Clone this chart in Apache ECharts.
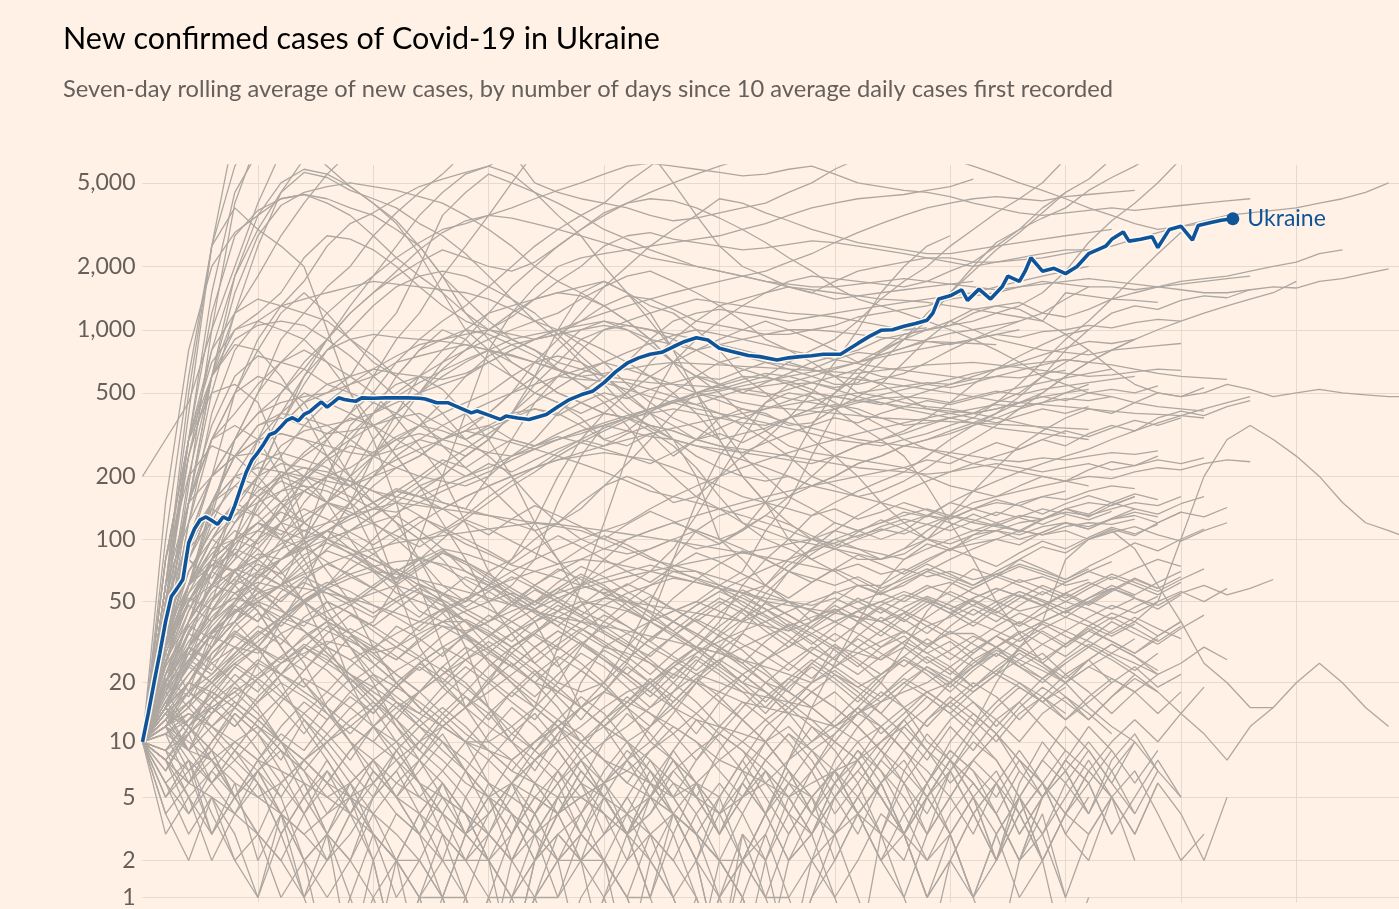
<!DOCTYPE html>
<html><head><meta charset="utf-8">
<script src="https://cdn.jsdelivr.net/npm/echarts@6/dist/echarts.min.js"></script>
<style>html,body{margin:0;padding:0;background:#fff1e5;}#chart{width:1399px;height:909px;}</style>
</head><body><div id="chart"></div>
<script>
const titleText = 'New confirmed cases of Covid-19 in Ukraine';
const subtitleText = 'Seven-day rolling average of new cases, by number of days since 10 average daily cases first recorded';
const yTickValues = [1, 2, 5, 10, 20, 50, 100, 200, 500, 1000, 2000, 5000];
const xGridStepDays = 20;
const sampleStepDays = 4; // grey lines: one value every 4 days, starting at day 0

const ukraineDays = [0,1,2,3,4,5,6,7,8,9,10,11,12,13,14,15,16,17,18,19,20,21,22,23,24,25,26,27,28,29,30,31,32,33,34,35,36,37,38,40,42,44,46,48,49,51,53,55,57,58,60,62,63,65,67,70,72,74,76,78,80,82,84,86,88,90,92,94,96,98,100,102,105,107,110,112,114,116,118,121,124,126,128,130,132,134,136,137,138,140,142,143,145,147,149,150,152,153,154,156,158,160,162,164,166,167,168,170,171,173,175,176,178,180,182,183,185,187,189];
const ukraineCases = [10,14,20,28,40,53,58,64,96,112,124,128,123,118,128,124,145,175,210,240,260,285,316,324,345,370,381,368,395,407,430,453,428,450,474,466,460,457,474,472,474,474,474,472,468,449,449,425,402,410,392,374,388,380,374,395,430,465,490,509,560,630,693,735,765,781,830,880,916,893,816,790,754,745,718,735,745,752,764,764,861,930,994,1000,1040,1070,1110,1200,1400,1450,1550,1380,1560,1400,1600,1800,1700,1900,2200,1900,1960,1850,2000,2300,2434,2503,2693,2915,2641,2693,2772,2460,3002,3111,2672,3134,3227,3320,3373];

const majorOutbreaks = [
  [10,60,400,2500,9000,20000,28000],
  [10,45,300,1500,4500,7000,8000,7500,6000,4800,4000,3200,2300,1500,1000,800,600,500,450,380,300,280,320,250,300,320,290,330,380,420,500,650,780,900,1100,1500,2000,2600,3000,3400,3800,4600,5300,6000,7000],
  [10,60,250,800,1800,3000,4500,5600,5300,4600,4200,3800,3200,2800,2300,1800,1400,1100,900,700,550,420,340,300,250,220,200,190,200,180,200,230,250,280,300,330,360,400,480,600,800,1000,1200,1300,1250,1380,1450,1420,1550,1600,1580,1700,1750,1850,1950],
  [10,40,150,600,1800,3500,5000,5800,5500,4800,4000,3300,2500,1800,1400,1100,900,800,650,550,480,400,350,330,300,380,420,400,350,360,420,480,550,700,900,1100,1250,1300,1350,1200,1150,1250,1400,1500,1600,1700,1750,1800,1900,2000,2100,2300,2400],
  [10,50,300,1200,2800,3700,4200,4400,4200,3800,3500,3000,2500,1800,1200,900,700,600,500,450,400,380,420,450,500,520,560,600,700,800,900,1100,1400,1700,2000,2500,3000,3600,4200,5000,6500,8000],
  [10,30,150,600,1500,2800,3900,4500,4800,5000,4800,4600,4300,4000,3500,3000,2500,2000,1700,1500,1300,1100,900,700,600,550,500,560,620,700,750,800,900,950,1000,1050,1100,1200,1300,1500,1900,2600,3300,4000,5000,6500],
  [10,150,800,2000,2900,3500,4200,4400,4000,3500,2800,2200,1800,1500,1200,1000,950,900,950,1100,1300,1450,1400,1250,1100,1050,1000,950,950,1000,1050,1150,1200,1250,1300,1400,1450,1500,1600,1700,1650,1600,1600,1550,1600,1650,1700,1750,1800],
  [10,40,200,600,1000,1200,1500,2200,2800,2700,2400,2000,1600,1300,1100,1000,1150,1400,1700,2000,2500,2800,2900,2700,2600,2500,2400,2450,2550,2650,2600,2500,2400,2300,2200,2200,2100,2100,2150,2200,2300,2400,2500,2700,2900,3100,3300,3500,3600,3700,3800,4000,4200,4500,5000],
  [10,50,250,600,1200,1800,2800,4000,5500,7000,9000,12000],
  [10,40,150,500,1200,2500,4500,6500,9000],
  [10,25,60,130,300,500,900,1200,1600,2000,2800,3600,4500,5500,7000,9000],
  [10,40,90,200,500,900,1300,1700,2500,3200,3600,4200,4800,5200,5600,6000,7000,5000,4500,4200,4000,3800,3500,3300,3400,3600,3800,4000,4500,5000,5800,6500,7000,7500,7000,6500,6000,5500,5000,4600,4200,3800,3500,3200,3000,3100,3200],
  [10,30,120,400,800,1100,1300,1400,1500,1600,1700,1650,1600,1550,1500,1400,1250,1100,1000,850,700,550,450,380,340,300,320,340,380,420,440,420,380,350,360,380,400,420,450,500,600,700,800,900,1000,1100,1200,1300,1400,1500,1700],
  [10,25,60,140,300,500,700,900,1200,1500,1800,2200,2600,3000,3200,3500,3800,4200,4600,5000,5500,6000,6200,6000,5800,5600,5400,5500,5800,6000,5500,5000,4800,4600,4500,4300,4000,3800,3600,3500,3600,3700,3800,3700,3800,3900,4000,4100,4200],
  [10,40,90,120,140,200,350,600,900,1200,1500,1800,2100,2400,2200,2000,1900,2100,2500,3000,3600,4000,4200,4100,3800,3400,3000,2600,2200,1900,1600,1400,1300,1200,1100,1000,900,800,700,600,550,500,480,450,430,420,410],
  [10,60,300,800,1200,1400,1300,1200,1100,900,750,600,500,400,300,250,200,150,120,100,90,85,90,100,90,95,110,150,220,350,500,600,550,480,420,400,380,450,550,700,900,1100,1400,1800,2300,2900],
  [10,80,300,600,900,1050,1100,1050,900,750,600,480,380,280,220,180,140,110,80,60,55,60,70,90,130,200,300,450,550,560,530,560,700,900,1200,1500,1900,2400,2900,3600,4500],
  [10,30,100,200,300,400,450,480,500,600,900,1200,2000,3500,4500,5500,5000,4500,4000,3500,3000,2700,2400,2200,2000,1900,1800,1700,1650,1600,1600,1650,1700,1750,1700,1650,1600,1550,1600,1650,1700,1750,1700,1650,1600,1550,1500,1500,1550],
  [10,60,120,200,300,400,500,650,900,1300,1800,2500,3500,4500,5500,6000,5500,4500,3500,2800,2000,1500,1100,800,650,550,500,480,520,560,600,650,600,580,550,580,620,650,680,700,720,700,680,650,620,600,590,580],
  [10,15,25,35,45,50,60,100,200,350,450,550,600,520,400,300,200,120,80,50,35,30,40,45,50,60,70,110,150,250,400,600,800,950,1000,1050,1200,1300,1250,1100,950,800,650,550,500,480,500,550,520,480,500,520,500,490,480,480],
  [10,80,300,500,550,450,250,120,100,90,80,70,60,50,30,15,10,8,10,20,30,35,40,45,50,45,40,45,50,45,40,45,50,45,40,35,35,30,35,40,45,40,35,40,50,100,200,300,350,300,250,200,150,120,110,100],
  [10,60,500,2500,3800,3000,2500,2000,1000,500,300,150,60,30,15,20,30,35,30,25,20,15,10,8,6,5,8,12,15,20,30,25,20,15,10,8,12,20,30,40,80,100,110,90,60,40,25,20,15,15,20,25,20,15,12],
  [200,300,450,1000,2000,4000,7000],
  [10,100,600,2500,6000,9000],
  [10,35,180,1000,4000,8000],
  [10,40,80,60,70,90,120,200,300,400,600,900,1200,1800,2500,3500,5000,7000,9000,12000,11000,9000,7000,5000,3500,2500,2000,1800,1600,1500,1400,1450,1500,1550,1600,1650,1700],
  [10,30,120,300,500,600,550,450,300,200,120,60,30,20,15,12,10,15,30,60,120,250,450,700,900,1100,1300,1500,1700,1800,1750,1700,1650,1600,1700,1900,2100,2500,3000,3800,4500,5200,6500],
  [10,25,60,90,100,110,100,120,150,180,250,350,500,700,900,1200,1600,2000,2500,3000,3500,4000,4500,5000,5500,6000,6500,7000,7500,8000],
  [10,30,50,80,100,150,200,250,300,400,500,700,900,1100,1300,1600,2000,2500,3000,3500,4000,5000,6000,7500,9000],
  [10,15,20,30,40,50,60,50,40,35,40,60,100,200,400,800,1200,1600,2000,2200,2300,2400,2500,2600,2700,2800,3000,3200,3500,3800,4000,4200,4300,4400,4600,4800,5200],
  [10,25,60,100,150,200,280,330,350,370,400,450,500,550,600,700,800,900,1000,1100,1200,1300,1400,1500,1600,1700,1800,1900,2100,2300,2600,2900,3200,3500,3800,4000,4200,4300,4200,4100,4300,4400,4500,4600],
  [10,30,80,150,200,220,210,200,190,180,200,220,250,300,350,400,500,700,900,1200,1600,2000,2500,3000,3500,4200,4000,3600,3300,3000,2800,2600,2500,2400,2300,2300,2400,2500,2600,2700,2800,2900,3000],
  [10,15,30,70,150,300,500,700,900,1200,1500,1900,2400,2900,3300,3500,3400,3200,3000,2800,2600,2400,2200,2100,2000,1900,1800,1700,1600,1550,1500,1450,1400,1380,1350,1300,1250,1200,1150,1100,1500,1450,1400,1380,1350]
];

const midOutbreaks = [
  [10,30,60,100,150,250,350,450,550,600,650,620,600,580,620,700,800,900,1000,1050,1100,1000,850,700,600,500,400,330,280,260,250,240,230,220,200,180,170,190,210,230,250,270,300,330,360,390,420,450,480],
  [10,40,150,350,600,750,700,650,550,500,450,400,350,300,280,260,250,270,300,330,350,330,310,300,280,260,240,220,200,180,170,160,170,190,220,260,300,350,420,500,600,700,800,900],
  [10,80,300,700,1000,1100,1000,900,700,500,350,250,180,120,80,50,35,25,20,18,20,30,50,80,110,130,140,150,160,180,200,230,250,280,300,320,350,380,420,450,500,550],
  [10,60,250,600,850,800,600,400,250,150,90,60,45,40,40,35,30,35,45,60,80,100,110,120,110,100,110,130,160,200,250,280,300,320,350,380,400,450,500,600,700,800],
  [10,40,150,300,350,300,200,100,40,20,12,10,8,12,15,10,8,10,12,15,18,25,40,80,150,250,350,450,500,480,420,350,300,250,180,120,80,50,35,25,20,15,12,10],
  [10,50,150,300,400,550,700,800,700,600,500,380,280,200,120,70,50,40,25,15,12,10,12,15,20,25,35,50,70,90,100,90,80,85,100,130,170,220,280,330,380,420,400,450,500,480,530],
  [10,20,40,80,150,250,400,600,800,900,950,920,900,880,850,800,750,700,650,550,450,350,250,200,160,140,120,110,100,95,90,85,80,90,110,130,150,160,170,180,190,200,195,210,220,215,230,240,235],
  [10,15,25,50,100,200,350,550,800,1000,1300,1600,1800,1900,1800,1600,1400,1200,950,750,600,480,400,350,300,280,270,260,250,240,230,220,215,210,205,210,220,230,220,210,220,230,215,225,240,230,245],
  [10,15,25,40,60,100,150,200,250,300,350,400,500,650,800,1000,1200,1400,1500,1450,1300,1100,900,700,500,350,250,200,160,140,120,110,120,130,140,130,120,115,110,105,110,100,108,115,105,98,110,120],
  [10,15,30,50,70,80,90,100,120,150,200,250,300,280,250,300,400,600,1000,1500,1700,1500,1200,800,500,300,200,150,120,100,90,80,80,90,100,95,105,110,100,108,120,115,125,130,120,135],
  [10,30,80,150,250,350,400,380,350,300,250,220,200,190,180,200,250,300,400,500,600,700,900,1100,1200,1250,1200,1150,1100,1150,1200,1250,1300,1350,1400,1450,1500,1600,1700,1800,1900,2000],
  [10,30,60,120,200,300,400,500,450,400,350,250,180,150,140,200,300,450,600,800,1000,1100,1200,1300,1400,1350,1300,1250,1200,1180,1150,1100,1050,1000,1020],
  [10,20,40,80,120,180,250,350,450,550,650,750,850,900,950,1000,900,800,700,650,600,580,560,550,540,530,520,540,560,600,650,700,760,820,900,960,1000,1050,1100],
  [10,30,60,100,130,150,170,180,170,150,120,100,80,60,50,60,80,120,200,300,400,500,700,900,1100,1300,1400,1500,1600,1500,1700,1900,2000,2100,2200,2100,2000,2100,2200,2300,2400,2400],
  [10,20,40,70,100,120,110,100,110,130,150,170,160,150,140,130,120,110,120,140,180,230,300,400,500,550,600,590,570,520,450,400,350,300,270,250,230,220,210,200,190,180],
  [10,15,20,30,50,80,120,170,200,220,260,300,320,300,330,400,500,550,600,580,570,560,520,480,440,400,350,300,250,200,180,160,150,140,130,120,110,110,120,125,135,130,140,150,145,160],
  [10,15,20,30,40,60,80,100,150,250,400,600,800,900,1000,950,850,750,650,600,620,650,680,700,690,680,670,660,650,640,630,620,640,660,680,690,700,680,660,640,620,600,610,630,650,640],
  [10,30,80,150,250,300,320,300,250,200,150,120,100,80,60,50,60,80,150,250,350,380,330,280,220,160,120,100,90,80,70,60,60,70,80,90,100,110,105,115,120,112,125,135,128],
  [10,25,60,150,250,350,380,350,320,330,350,380,400,350,300,350,400,420,400,350,300,330,400,500,600,700,750,700,650,600,550,550,580,620,700,800,900,1000,1100,1200,1400,1600],
  [10,25,50,80,100,120,150,170,150,140,180,220,250,300,330,350,300,280,300,320,350,380,400,420,400,380,360,350,380,400,420,450,470,480,470,450,480,510,490,520,540,560,580,600],
  [10,60,150,200,250,300,320,300,280,260,250,270,300,350,400,450,500,600,800,1000,1100,1050,1000,900,800,700,650,600,550,500,480,460,450,430,420,410,400,420,450,480,500,520],
  [10,50,100,150,200,180,150,120,100,110,130,150,180,200,250,300,400,550,700,900,1000,1050,1000,950,900,850,800,750,700,650,600,580,560,540,520,500,480,460,450,440,430,420,410,400,395,390,380],
  [10,8,6,10,15,25,40,60,100,150,200,280,350,450,600,750,850,900,950,1000,1050,1000,900,850,800,850,900,950,1000,1000,980,950,920,900,880,870,860,850],
  [10,20,30,40,50,60,80,100,150,200,300,400,500,600,700,800,900,950,1000,900,800,700,600,550,500,480,450,430,420,410,400,390,380,375,370,365,360,355,350,345,340,335],
  [10,40,100,200,250,260,240,200,150,100,70,55,50,45,50,70,80,100,120,150,180,200,180,150,160,200,250,300,380,500,700,1000,1500,2000,2500,2800],
  [10,30,60,100,150,200,230,220,200,180,150,120,80,50,35,25,20,15,12,10,12,15,20,25,30,40,60,80,100,130,150,170,190,210,250,300,350,400,450,480,460,500,520,500,540],
  [10,80,200,280,250,200,150,100,70,50,30,20,15,12,10,10,12,15,20,30,40,50,60,70,70,60,55,60,80,100,120,110,100,110,130,150,140,130,150,160,155,170,180,175],
  [10,50,150,300,500,800,1200,1500,1200,900,700,600,800,1000,900,700,600,500,450,400,450,500,600,700,800,900,1000,1100,1000,900,800,700,800,900,1000,1100,1000,900,850,800,780,760,800,820,840,860],
  [10,20,40,60,100,200,350,450,500,550,600,700,750,800,850,800,700,600,500,450,400,380,350,300,280,270,260,250,240,230,250,280,300,330,380,450,550,650,750,850,950,1000],
  [10,15,20,30,40,50,60,80,100,150,250,400,600,800,1000,1200,1300,1400,1500,1600,1700,1500,1300,1200,1000,800,600,500,400,300,250,200,150,120,100,90,95,100,110,105,115,120,118,125],
  [10,15,25,35,50,70,100,150,200,300,400,500,600,700,800,900,1000,1100,1200,1400,1600,1800,1900,1700,1500,1300,1100,900,800,700,600,500,480,450,430,420,400,380,360,340,320],
  [10,30,50,60,80,150,200,180,150,200,250,300,350,400,450,500,600,700,750,700,600,500,400,300,200,100,80,60,50,40,50,60,55,50,58,62,55,50,45,48],
  [10,12,15,20,25,30,40,50,60,80,100,130,170,200,250,300,400,500,600,650,700,650,600,500,400,300,200,150,100,80,90,100,110,120,130,125,140,150,145,160,170],
  [10,22,45,80,120,160,210,190,240,280,260,310,350,330,300,340,380,420,390,450,500,470,520,560,600,580,640,700,680,650,720,780,760,820,880,850,900,950,920,980,1000,1050,1020,1080,1120,1100],
  [10,30,70,110,150,130,170,200,180,160,140,170,200,240,220,260,300,280,320,360,400,380,420,460,440,480,520,500,470,450,430,460,490,520,550,530,560,600,640,680,720,700],
  [10,18,35,60,90,140,200,260,320,380,350,300,260,230,200,220,250,280,310,290,270,250,230,260,300,340,380,420,460,500,480,460,440,470,510,550,600,650,700,760,820,880,860,900],
  [10,25,50,75,95,120,100,90,110,130,150,170,160,180,200,230,210,240,270,300,280,320,350,330,300,280,260,290,320,350,380,360,400,430,460,440,470,500,530,560,590,620,650],
  [10,40,80,130,180,230,260,240,220,180,150,120,100,110,130,160,190,220,260,300,340,380,420,460,500,540,580,620,600,560,520,480,450,420,400,380,360,340,330,320,310,300],
  [10,15,28,45,70,100,140,190,250,320,400,480,560,640,720,800,760,700,640,600,560,520,480,450,420,400,380,360,340,320,300,290,280,300,320,350,380,360,390,420,400,430],
  [10,20,36,55,70,85,80,95,110,125,140,135,150,170,190,210,240,270,300,330,360,390,420,450,480,510,540,570,600,630,660,700,740,780,820,860,900,950,1000],
  [10,12,20,32,48,65,90,120,150,180,210,240,270,300,330,310,290,270,250,230,210,190,170,160,150,140,130,120,110,100,95,90,85,80,90,100,110,120,130,125,140,150,145,160],
  [10,35,60,75,85,70,60,70,90,110,130,160,190,230,270,320,380,450,530,620,700,780,860,940,1000,950,900,850,800,760,720,690,660,640,620,600,580],
  [10,16,22,30,40,55,70,90,110,90,75,65,80,100,125,150,180,210,250,290,330,370,410,450,500,460,420,390,360,340,320,300,290,280,270,260,250,240,235,245,240,250,260,255,265],
  [10,28,55,90,130,170,200,220,210,190,170,160,150,140,160,180,200,220,240,260,280,300,320,340,360,380,400,420,440,460,480,500,520,540,560,550,580,600,590,620,640],
  [10,22,40,60,80,100,120,110,100,90,80,70,60,55,50,60,70,80,90,100,110,120,140,160,180,200,220,240,260,280,300,320,340,360,380,400,420,440,430,450,470,460,480]
];

const smallOutbreaks = [
  [10,15,25,35,40,30,20,12,8,5,3,2,1,1,0,0,1,2,3,2,1,0],
  [10,20,40,60,55,45,30,20,15,10,8,6,5,4,3,4,6,8,10,12,15,18,20,25,30,28,25,20,18,15,12,10,12,15,18,20,25,30,35,40,45,50,46,52,48,55,60,54,58,64],
  [10,12,18,25,30,28,35,40,45,50,55,60,55,50,40,30,25,20,18,15,12,10,8,6,5,4,5,6,8,10,12,14,16,18,20,24,19,23,28,24,20,26,31,27,22,25,30,26],
  [10,8,6,5,4,3,2,1,0,0,1,2,1,0,0,1,0,1,2,3,5,8,6,4,3,2,1,0,2,4,3,1,0],
  [10,25,50,80,100,90,70,50,30,20,15,10,6,4,3,2,1,2,3,4,6,8,12,18,25,35,45,60,75,90,110,130,150,170,190,210,230,250,270,300,280,320,350,330,380,410,390,430,460],
  [10,15,20,18,15,12,10,8,10,12,15,20,25,30,35,40,50,60,70,80,90,100,110,120,130,140,150,160,170,180,190,200,210,220,240,230,260,290,270,300,330,310,340,370,350,380],
  [10,12,10,8,6,5,4,3,4,5,6,8,10,12,15,20,25,20,15,10,8,6,5,4,3,2,1,0,0],
  [10,18,30,45,60,70,80,90,100,110,120,130,110,90,70,60,50,45,40,35,30,28,25,22,20,18,16,15,14,13,12,15,20,30,45,60,72,66,80,92,86,100,112,104,120,135,128,142],
  [10,14,12,16,20,25,22,18,15,12,10,14,18,22,26,30,35,40,45,50,48,45,40,35,30,25,20,18,15,12,10,8,12,9,6,10,14,11,7,5,8,12,9,6,9],
  [10,30,60,80,70,50,35,25,15,10,6,4,3,2,2,1,1,0,0,0,1,2,3,4,3,2,1,0,0,1,3,5,8,12,15,20,26,22,30,36,31,38,44,40,34,40],
  [10,20,35,50,65,80,95,110,120,130,140,150,145,140,135,130,125,120,115,110,100,90,80,75,70,65,60,55,50,45,40,35,30,34,28,32,26,30,24,28,22,26,20,24,19,22],
  [10,15,12,9,7,5,6,8,10,12,10,8,6,5,4,3,2,3,4,5,4,3,2,1,2,0,1,3,1,0],
  [10,40,90,150,180,160,120,80,50,35,25,20,15,12,10,8,6,5,4,5,6,8,10,14,20,30,40,55,70,85,100,110,120,135,128,150,170,160,180,200,190,215,235,225,250],
  [10,16,24,35,45,55,60,58,55,52,48,44,40,38,36,40,45,50,55,60,65,70,75,70,65,60,55,50,48,46,44,42,40,44,38,42,48,43,38,44,50,46,41,47,53],
  [10,22,30,25,20,15,10,6,3,2,1,0,0,0,1,0,0,2,4,6,5,4,3,2,1,0],
  [10,12,16,20,26,32,40,50,60,72,85,100,120,140,160,180,200,220,240,250,260,250,240,220,200,180,160,150,140,130,140,125,135,150,138,126,140,155,145,132,148,162,150,140],
  [10,8,12,15,18,14,10,8,6,9,12,15,12,10,8,6,5,4,6,8,10,12,15,18,22,26,30,34,38,42,46,40,48,54,50,44,52,58,53,48,55,62,56],
  [10,25,45,70,90,80,65,50,40,30,22,16,12,9,7,5,4,3,2,2,3,4,5,4,3,2,2,1,1,2,3,4,6,3,5,8,6,4,2,5,7,4],
  [10,11,13,15,18,22,27,33,40,48,58,70,80,90,85,78,70,60,52,45,40,35,30,26,22,20,18,17,16,15,18,14,17,21,18,15,19,23,20,16,19],
  [10,13,20,28,35,30,25,28,32,30,25,20,15,12,10,9,8,10,12,15,18,16,14,12,10,8,7,6,5,6,7,8,10,12,9,13,16,13,10,14,17,14,11],
  [10,35,70,110,140,130,100,70,45,30,20,12,8,5,3,2,1,1,0,1,2,1,0,0,0,1,2,4,8,15,25,40,60,80,95,88,105,118,110,125,140,132,150,165,155],
  [10,9,11,14,17,21,25,30,26,22,19,16,14,12,15,18,22,27,33,40,48,55,60,65,62,58,52,46,40,35,30,28,26,30,25,29,34,30,26,31,36,32,28,33],
  [10,20,30,42,55,62,58,50,42,35,28,22,18,14,11,9,7,6,5,5,6,7,9,11,14,18,22,26,30,35,40,45,40,47,53,48,43,50,56,51,46,52,58,53],
  [10,12,14,12,10,8,7,6,5,6,8,10,13,17,22,28,35,42,50,60,70,80,90,100,110,100,90,80,70,65,60,66,58,64,72,66,60,68,76,70,64,72],
  [10,18,26,34,30,24,18,13,9,6,4,3,2,1,1,0,0,1,1,2,2,1,1,0],
  [10,22,40,60,85,110,140,170,200,190,170,150,130,110,95,85,75,70,65,60,55,50,48,46,44,42,40,38,36,40,45,50,55,60,70,80,90,100,94,108,120,112,126,140,132,148,160],
  [10,12,15,11,8,6,4,3,2,3,5,7,10,14,18,24,30,36,42,48,52,50,45,40,35,30,26,22,18,15,12,15,11,14,18,15,12,16,20,17,13,16,20],
  [10,15,22,30,40,50,45,40,36,32,28,30,35,40,45,50,55,50,45,40,35,30,25,20,16,12,10,8,6,5,7,4,6,9,7,5,8,11,8,6,9],
  [10,28,50,70,60,45,30,20,14,10,7,5,4,3,2,2,3,5,7,10,13,16,20,24,28,32,36,40,45,50,55,60,54,62,70,64,58,66,74,68,62,70,78],
  [10,14,18,22,28,35,42,50,58,65,70,68,64,60,56,52,48,45,42,40,38,36,34,32,30,28,26,24,22,20,23,19,22,26,23,20,24,28,24,21,25],
  [10,11,9,8,10,12,9,7,5,4,3,2,2,1,0,0,0,1,3,2,0],
  [10,20,32,45,52,48,40,36,30,26,30,35,40,46,52,58,64,70,76,80,78,74,70,66,62,58,55,52,50,48,52,46,50,56,51,46,52,58,53,48,54],
  [10,16,26,38,50,66,80,96,110,100,85,70,56,44,34,26,20,16,13,10,8,7,6,5,6,8,10,13,16,20,24,28,32,36,31,35,40,36,32,37,42,38,34,39],
  [10,13,9,12,15,12,9,7,10,13,16,12,9,7,5,8,11,14,10,7,5,3,4,6,4,2,1],
  [10,24,38,52,64,56,46,36,28,22,18,15,18,22,28,34,40,46,52,58,62,66,70,74,78,82,86,90,95,100,110,102,115,125,118,110,122,135,127,118,130],
  [10,17,25,20,16,13,10,8,6,5,4,6,8,6,4,3,2,1,2,3,2,1,0,0,1],
  [10,12,16,21,27,34,42,51,60,68,74,78,80,76,70,62,54,46,38,32,26,22,18,15,13,12,11,10,12,9,11,14,12,9,13,16,13,10,14,17,14],
  [10,30,55,75,70,58,46,36,28,22,17,13,10,8,6,5,6,8,11,15,20,26,33,40,48,56,64,72,80,88,96,104,112,106,118,130,124,116,128,140,132,124,136],
  [10,9,13,17,13,9,6,8,11,15,19,23,27,23,19,15,12,9,7,5,4,3,5,7,9,11,9,7,5,7,4,6,9,7,5,8,6,4,7],
  [10,19,28,36,44,52,60,68,76,84,90,96,100,104,108,112,116,120,118,114,110,106,102,98,94,90,86,82,78,74,70,76,68,72,66,70,64,68,62,66,60,64]
];

const jaggedSmallOutbreaks = [
  [10,14,9,16,22,18,25,31,27,20,24,30,26,19,15,21,28,23,17,13,18,24,20,15,11,16,22,18,14,10,13,17,14,11,8,12,9,13,16,12,9,7,10,13,10,14,11,8,12,15],
  [10,20,15,28,36,30,42,38,50,44,36,30,38,46,40,34,28,35,42,37,31,26,33,40,35,30,25,32,39,34,29,24,30,36,31,26,32,38,44,40,36,42,48,44,50,56,50,58],
  [10,7,12,9,14,11,8,13,10,7,5,9,6,4,7,5,3,6,4,2,5,3,1,4,2,0,3,1,0,2,1,0,3,2,5,3,1,0,2,4,1,3,5,2],
  [10,26,40,58,72,65,80,92,78,66,58,70,82,74,64,56,48,60,72,64,54,46,40,52,64,58,48,42,36,46,56,50,44,52,60,54,48,56,64,58,52,60,68,62,56,64,72],
  [10,13,18,14,20,26,22,30,25,34,29,38,33,27,35,43,37,30,24,31,38,32,26,21,28,34,29,23,18,25,31,26,22,27,33,28,24,30,36,31,27,33,40,35,31,37,43],
  [10,30,48,40,55,68,60,75,88,80,70,62,74,86,78,68,58,50,62,74,66,56,48,40,34,44,54,46,38,32,26,34,42,36,30,38,46,40,48,56,50,58,66,60,54,62],
  [10,8,11,15,12,17,22,19,25,21,16,13,18,24,20,15,11,9,13,17,14,10,7,5,8,11,9,6,4,7,10,8,5,3,6,9,7,4,2,5,8,6,3,5,8,5],
  [10,16,24,20,28,36,31,42,50,44,38,46,55,48,40,34,42,50,58,52,45,38,32,40,48,56,50,43,37,31,38,45,40,35,42,50,58,66,60,54,62,70,64,72,80,74],
  [10,12,8,6,9,7,5,8,6,4,7,5,3,5,4,2,4,3,1,3,2,0,2,1,0,1,3,2,0,1,2,4,3,1,0,2,1,3,5,2,0,1],
  [10,22,35,30,44,58,50,64,76,68,58,50,42,54,66,60,52,44,38,48,58,52,44,36,30,38,46,40,34,28,24,30,36,31,26,22,28,34,29,25,31,37,32,28,34,40],
  [10,15,11,19,25,21,17,23,30,26,21,17,14,19,24,20,16,13,18,23,19,15,12,16,21,17,13,10,14,18,15,12,9,13,17,14,11,15,19,16,13,17,21,18,14,18],
  [10,35,60,85,110,95,120,140,125,108,94,110,128,114,100,88,76,90,104,92,80,70,62,74,86,78,68,60,52,62,72,64,56,66,76,68,60,70,80,72,64,74,84,96,88,100,112],
  [10,9,13,18,15,21,27,23,31,37,32,27,23,28,34,29,24,20,26,32,27,22,18,24,30,25,20,16,21,26,22,18,14,19,24,20,16,12,16,21,17,13,17,22,18,14,19],
  [10,18,12,8,5,7,4,2,3,1,0,2,1,0,0,1,3,5,4,7,5,3,6,4,2,1,0,2,4,3,6,8,5,3,1,2,4,6,3,5,8,6,3],
  [10,24,38,33,46,40,52,62,55,48,42,50,58,51,44,38,32,40,48,42,36,31,27,34,41,36,31,27,23,29,35,30,26,32,38,33,28,34,40,35,30,36,42,37,32,38],
  [10,14,20,17,24,30,26,34,40,35,30,26,32,38,33,28,24,30,36,31,26,22,28,34,29,24,20,26,32,28,24,20,17,22,27,23,19,24,29,25,21,26,31,27,23],
  [10,40,70,100,85,110,135,120,100,85,72,60,72,86,76,64,54,46,56,66,58,48,40,34,42,50,44,36,30,38,46,40,34,42,50,44,38,46,54,48,42,50,58,52,46,54],
  [10,11,14,12,16,13,10,14,18,15,12,9,12,15,12,9,7,10,13,11,8,6,9,12,10,7,5,8,11,9,7,5,3,6,9,7,4,2,5,8,6,4,7,10,7],
  [10,20,30,26,38,48,42,54,62,56,48,42,36,44,52,46,40,34,29,36,43,38,32,27,23,29,35,30,25,21,27,33,28,24,30,36,31,27,33,39,34,30,36,42,37,33],
  [10,8,5,7,10,8,12,16,13,18,22,19,25,30,26,21,17,22,27,23,19,15,19,24,20,16,13,17,21,18,15,12,16,20,17,14,18,22,19,16,20,24,21,18,22],
  [10,28,18,36,48,40,56,66,58,50,60,72,64,55,47,56,66,58,50,43,52,61,54,46,40,48,57,50,43,37,44,52,46,40,48,56,50,44,52,60,54,48,56,64,58,66],
  [10,13,16,12,9,13,17,14,11,8,12,16,13,10,7,11,15,12,9,6,10,14,11,8,5,9,13,10,7,4,8,12,9,6,3,7,11,8,5,8,12,9,6,10],
  [10,19,26,22,30,38,33,27,35,43,38,32,27,34,41,36,30,25,31,37,32,27,22,28,34,29,24,20,25,30,26,22,27,32,28,24,29,34,30,26,31,36,32,28,33],
  [10,6,4,7,5,8,11,9,13,17,14,19,24,20,26,32,27,22,18,23,29,25,20,16,21,26,22,18,14,18,22,19,16,20,24,21,18,22,26,23,20,24,28,25,22],
  [10,33,52,46,62,76,68,84,96,86,74,64,76,88,78,66,56,48,58,68,60,50,42,36,44,52,46,38,32,40,48,42,36,44,52,46,40,48,56,50,44,52,60,54,62,70],
  [10,16,12,18,24,20,15,11,16,21,17,13,9,13,17,14,10,7,11,15,12,8,5,9,13,10,7,4,8,12,9,6,3,7,11,8,5,2,6,10,7,4,8,11,7],
  [10,21,17,26,34,29,22,30,38,33,27,22,18,24,30,26,21,17,22,28,24,19,15,20,26,22,18,14,19,24,20,16,21,26,22,18,23,28,24,20,25,30,26,22],
  [10,9,7,10,14,11,16,21,18,24,30,26,33,40,35,29,24,30,36,31,26,21,17,22,27,23,19,15,20,25,21,17,22,27,23,19,24,29,25,21,26,31,27,23,28],
  [10,45,80,65,95,120,105,130,150,135,118,104,92,108,124,112,98,86,76,90,104,94,82,72,64,76,88,80,70,62,72,84,76,68,78,90,82,74,86,98,90,102,114,106,118],
  [10,14,18,15,12,16,20,17,14,11,15,19,16,13,10,14,18,15,12,9,13,17,14,11,8,12,16,13,10,7,11,15,12,9,13,17,14,11,15,19,16,13,17,21,18],
  [10,50,95,140,120,160,190,170,150,130,150,175,160,140,120,105,125,145,130,115,100,118,136,122,108,95,112,130,118,104,92,108,124,112,100,116,132,120,108,124,140,128,146,160],
  [10,5,8,3,6,2,4,1,3,0,2,0,1,3,1,0,2,4,2,0,1,3,5,3,1,0,2,1,3,5,7,4,2,4,6,3,1,3,5,2,4,7,5],
  [10,17,28,23,35,44,38,49,58,51,44,52,61,54,46,40,48,57,50,43,37,45,53,46,40,34,41,49,43,37,32,39,47,41,35,43,51,45,39,47,55,49,57,65,58],
  [10,12,9,14,19,16,22,27,23,18,14,19,25,21,17,13,18,23,19,15,12,16,21,17,14,11,15,20,16,13,10,14,18,15,12,16,20,17,13,17,22,18,14,18]
];

const lowLevelOutbreaks = [
  [10,4,2,5,3,1,4,6,3,2,5,7,4,2,1,3,5,8,6,3,2,4,7,5,3,1,2,4,6,9,6,4,2,3,5,8,5,3,1,2,4,3,5,7,4,2,3],
  [10,6,8,4,2,3,1,2,0,1,3,2,4,6,3,5,8,6,4,2,3,5,3,1,0,2,4,7,5,3,6,9,7,4,2,3,1,2,4,6,3,5],
  [10,12,7,9,5,3,6,4,2,4,7,5,8,11,7,5,3,6,9,6,4,2,5,8,5,3,6,10,7,5,3,5,8,6,4,7,10,8,5,3,6,9,6,4,7,5],
  [10,3,5,2,4,6,3,1,2,4,2,0,1,2,5,3,2,4,7,4,2,1,3,2,4,6,4,2,5,3,1,2,4,3,1,2,4,2,5,3,1],
  [10,8,4,6,9,6,3,5,8,5,2,4,3,6,4,2,1,3,5,3,6,9,7,4,2,4,6,4,2,3,5,7,5,3,2,4,6,4,2,3,5,8,5,3,6,4,2,5],
  [10,15,9,6,8,11,7,4,6,9,12,8,5,7,10,6,4,2,4,7,5,3,6,9,6,3,5,8,11,8,5,7,10,13,9,6,8,11,8,5,7,10,7,4],
  [10,5,7,3,5,8,5,2,3,5,3,1,2,4,2,3,6,4,2,4,7,10,6,4,2,5,8,5,3,5,7,4,2,1,3,5,3,6,4,2,4],
  [10,9,5,3,5,7,10,7,4,6,3,2,4,6,4,2,0,2,4,6,3,5,8,5,3,5,2,4,7,5,2,4,6,3,1,3,5,2,4,6,3,2,5],
  [10,7,11,6,4,7,9,5,3,6,8,5,7,10,7,4,6,3,5,8,5,3,1,3,6,4,7,10,7,4,6,9,6,3,5,7,4,6,9,6,4,7,5,3,6],
  [10,4,6,9,5,3,2,4,7,5,8,5,3,1,3,6,4,2,5,8,6,3,4,7,5,3,6,4,2,3,5,3,6,8,5,3,5,7,4,2],
  [10,11,6,8,5,7,4,2,1,2,4,2,0,1,3,5,2,4,6,9,6,4,2,4,6,3,5,7,4,2,5,8,5,3,6,9,7,5,8,6,4,6,9],
  [10,6,3,5,2,1,3,5,7,4,6,9,6,3,2,4,6,9,12,8,5,3,5,8,6,4,2,3,6,4,7,10,7,5,3,5,8,6,3,5]
];

const toY = v => Math.log10(v + 1);
const chart = echarts.init(document.getElementById('chart'), null, {renderer: 'canvas'});

const greySeries = [...majorOutbreaks, ...midOutbreaks, ...smallOutbreaks, ...jaggedSmallOutbreaks, ...lowLevelOutbreaks].map(vals => ({
  type: 'line',
  data: vals.map((v, i) => [i * sampleStepDays, toY(v)]),
  showSymbol: false, symbol: 'none', silent: true, animation: false, z: 2,
  lineStyle: {color: '#aea7a1', width: 1.3}
}));
const ukraineData = ukraineDays.map((d, i) => [d, toY(ukraineCases[i])]);
const lastIdx = ukraineDays.length - 1;

const tickPositions = yTickValues.map(toY);

chart.setOption({
  backgroundColor: '#fff1e5',
  animation: false,
  textStyle: {fontFamily: 'Lato, "Noto Sans", sans-serif'},
  title: [
    {text: titleText, left: 58, top: 16, textStyle: {fontFamily: 'Lato', fontSize: 30.5, fontWeight: 'normal', color: '#000000', lineHeight: 36}},
    {text: subtitleText, left: 58, top: 70, textStyle: {fontFamily: 'Lato', fontSize: 23.7, fontWeight: 'normal', color: '#66605c', lineHeight: 28}}
  ],
  grid: {left: 142.5, right: 0, top: 165, bottom: 0, containLabel: false},
  xAxis: {
    type: 'value', min: 0, max: 217.8, interval: xGridStepDays,
    axisLine: {show: false}, axisTick: {show: false}, axisLabel: {show: false},
    splitLine: {show: true, showMinLine: false, showMaxLine: false, lineStyle: {color: '#e6d9ce', width: 1}}
  },
  yAxis: {
    type: 'value', min: toY(0.895), max: toY(6077),
    axisLine: {show: false},
    axisTick: {show: false, customValues: tickPositions},
    axisLabel: {
      customValues: tickPositions, margin: 7, color: '#66605c', fontSize: 23, fontFamily: 'Lato',
      formatter: v => Math.round(Math.pow(10, v) - 1).toLocaleString('en-US')
    },
    splitLine: {show: true, lineStyle: {color: '#e6d9ce', width: 1}}
  },
  series: [
    ...greySeries,
    {type: 'line', data: ukraineData, showSymbol: false, symbol: 'none', silent: true, z: 3,
     lineStyle: {color: '#fffaf4', width: 6.5}},
    {type: 'line', data: ukraineData, showSymbol: false, symbol: 'none', silent: true, z: 4,
     lineStyle: {color: '#0f5499', width: 3.6}},
    {type: 'scatter', data: [ukraineData[lastIdx]], symbolSize: 13, z: 5, silent: true,
     itemStyle: {color: '#0f5499', opacity: 1},
     label: {show: true, position: 'right', distance: 8, formatter: 'Ukraine', color: '#0f5499', fontSize: 23, fontFamily: 'Lato'}}
  ]
});
</script>
</body></html>
